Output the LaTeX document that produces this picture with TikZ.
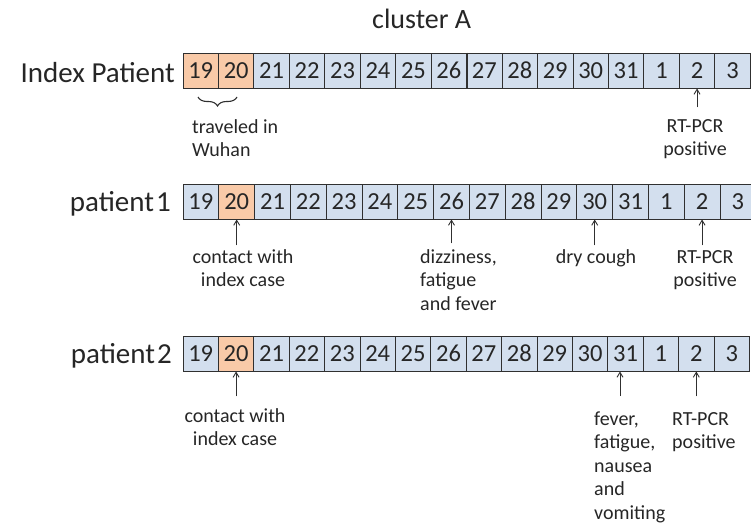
\documentclass[tikz,border=0pt]{standalone}
\usepackage{fontspec}
\setmainfont{Carlito}
\usetikzlibrary{arrows.meta,decorations.pathreplacing,calc}
\definecolor{dayblue}{HTML}{D3DFEE}
\definecolor{dayorange}{HTML}{F9CAA8}
\definecolor{gridline}{HTML}{303030}
\definecolor{inktext}{HTML}{262626}
\begin{document}
\begin{tikzpicture}[x=1pt,y=-1pt,
  every node/.style={text=inktext},
  day/.style={draw=gridline, line width=0.9pt, minimum height=35pt,
    inner sep=0pt, font=\fontsize{24.5}{28}\selectfont},
  paint/.code={\ifnum#1<\hotlo\relax\tikzset{fill=dayblue}\else
    \ifnum#1>\hothi\relax\tikzset{fill=dayblue}\else
    \tikzset{fill=dayorange}\fi\fi},
  rowlabel/.style={anchor=base east, inner sep=0pt,
    font=\fontsize{29}{34}\selectfont},
  note/.style={inner sep=0pt, font=\fontsize{20}{23.5}\selectfont},
  pointer/.style={draw=gridline, line width=0.9pt,
    -{Straight Barb[length=5pt,width=6pt]}},
  divider/.style={draw=gridline, line width=1.7pt}]

\useasboundingbox (0,0) rectangle (751,525);

% title
\node[anchor=base west, inner sep=0pt, font=\fontsize{28}{33}\selectfont]
  (title) at (372,28) {cluster A};

% index patient: 19 and 20 highlighted
\def\hotlo{1}\def\hothi{2}
\foreach \d [count=\i] in {19,20,...,31,1,2,3}
  \node[day, paint=\i, minimum width=35.45pt] (p\i) at ({183+(\i-0.5)*35.45},70.5) {\d};
\draw[divider] (p8.north east) -- (p8.south east);
\node[rowlabel] (lp) at (175,82) {Index Patient};

% patient 1: contact on 20
\def\hotlo{2}\def\hothi{2}
\foreach \d [count=\i] in {19,20,...,31,1,2,3}
  \node[day, paint=\i, minimum width=35.8pt] (q\i) at ({183+(\i-0.5)*35.8},201.5) {\d};
\node[rowlabel] (lq) at (171,211) {patient\kern2pt1};

% patient 2: contact on 20
\foreach \d [count=\i] in {19,20,...,31,1,2,3}
  \node[day, paint=\i, minimum width=35.4pt] (r\i) at ({183+(\i-0.5)*35.4},353.5) {\d};
\draw[divider] (r15.north east) -- (r15.south east);
\node[rowlabel] (lr) at (172,363) {patient\kern2pt2};

% multi-line notes are placed by the baseline of their last line

% index patient annotations
\coordinate (bl) at (198,97);
\coordinate (br) at (237,97);
\draw[gridline, line width=1.1pt, decorate,
  decoration={brace, mirror, amplitude=9pt}] (bl) -- (br);
\node[note, anchor=base west, align=left] (travel) at (192,156.5) {traveled in\\Wuhan};
\coordinate (pt15) at ($(p15.south)+(0,19)$);
\draw[pointer] (pt15) -- (p15.south);
\node[note, anchor=base, align=center] (pcr1) at (695,155.5) {RT-PCR\\positive};

% patient 1 annotations
\coordinate (qt2) at ($(q2.south)+(0,26)$);
\draw[pointer] (qt2) -- (q2.south);
\node[note, anchor=base, align=center] (cont1) at (243,286.5) {contact with\\index case};
\coordinate (qt8) at ($(q8.south)+(0,24)$);
\draw[pointer] (qt8) -- (q8.south);
\node[note, anchor=base west, align=left] (dizzy) at (420,310) {dizziness,\\fatigue\\and fever};
\coordinate (qt12) at ($(q12.south)+(0,26)$);
\draw[pointer] (qt12) -- (q12.south);
\node[note, anchor=base] (cough) at (596,263) {dry cough};
\coordinate (qt15) at ($(q15.south)+(0,26)$);
\draw[pointer] (qt15) -- (q15.south);
\node[note, anchor=base, align=center] (pcr2) at (705,286.5) {RT-PCR\\positive};

% patient 2 annotations
\coordinate (rt2) at ($(r2.south)+(0,25)$);
\draw[pointer] (rt2) -- (r2.south);
\node[note, anchor=base, align=center] (cont2) at (235,445.5) {contact with\\index case};
\coordinate (rt13) at (620,396);
\draw[pointer] (rt13) -- (rt13 |- r13.south);
\node[note, anchor=base west, align=left] (sympt) at (594,519)
  {fever,\\fatigue,\\nausea\\and\\vomiting};
\coordinate (rt15) at ($(r15.south)+(0,25)$);
\draw[pointer] (rt15) -- (r15.south);
\node[note, anchor=base west, align=left] (pcr3) at (672,448.5) {RT-PCR\\positive};
\end{tikzpicture}
\end{document}
